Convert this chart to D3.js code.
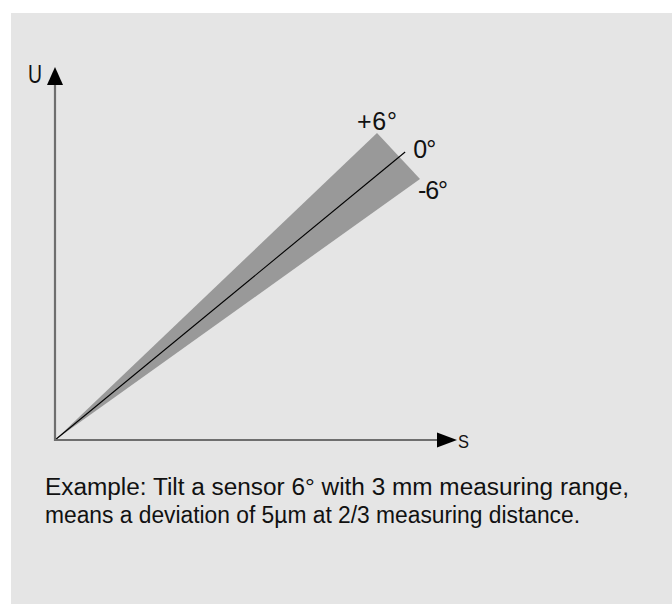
<!DOCTYPE html>
<html>
<head>
<meta charset="utf-8">
<script src="https://cdn.jsdelivr.net/npm/d3@7"></script>
<style>
html,body{margin:0;padding:0;background:#fff;}
svg{display:block;}
text{font-family:"Liberation Sans","Arial",sans-serif;fill:#111;}
</style>
</head>
<body>
<svg id="chart" width="672" height="604"></svg>
<script>
// ---- data ----
const axisLabels = ["U", "S"];
const axisDomain = [0, 100];
const tiltLabels = ["+6°", "0°", "-6°"];
const endS = [80.1, 87.1, 90.8];   // s-value at end of each line
const endU = [82.3, 77.2, 70.0];   // U-value at end of each line
const captionLines = [
  "Example: Tilt a sensor 6° with 3 mm measuring range,",
  "means a deviation of 5µm at 2/3 measuring  distance."
];

const svg = d3.select("#chart");
svg.append("rect").attr("x", 11).attr("y", 13).attr("width", 661).attr("height", 591).attr("fill", "#e5e5e5");

const x = d3.scaleLinear().domain(axisDomain).range([55, 457]);
const y = d3.scaleLinear().domain(axisDomain).range([440, 67]);

// wedge
const wedgePts = [[0, 0], [endS[0], endU[0]], [endS[2], endU[2]]];
svg.append("path")
  .attr("d", d3.line().x(d => x(d[0])).y(d => y(d[1]))(wedgePts) + "Z")
  .attr("fill", "#999999");

// 0° line
svg.append("path")
  .attr("d", d3.line().x(d => x(d[0])).y(d => y(d[1]))([[0, 0], [endS[1], endU[1]]]))
  .attr("stroke", "#000").attr("stroke-width", 1.1).attr("fill", "none");

// axes
const gx = svg.append("g").attr("transform", `translate(0,${y(0)})`)
  .call(d3.axisBottom(x).tickValues([]).tickSizeOuter(0));
const gy = svg.append("g").attr("transform", `translate(${x(0)},0)`)
  .call(d3.axisLeft(y).tickValues([]).tickSizeOuter(0));
[gx, gy].forEach(g => g.select(".domain").attr("stroke", "#6e6e6e").attr("stroke-width", 2.2));
gx.select(".domain").attr("d", `M${x(0) - 1},0H${x(100) - 18}`);
gy.select(".domain").attr("d", `M0,${y(0) + 1}V${y(100) + 16}`);

// arrowheads
const xa = x(100), ya = y(0);
svg.append("path").attr("d", `M${xa},${ya}L${xa - 20},${ya - 7.5}L${xa - 20},${ya + 7.5}Z`).attr("fill", "#000");
const xb = x(0), yb = y(100);
svg.append("path").attr("d", `M${xb},${yb}L${xb - 8},${yb + 18}L${xb + 8},${yb + 18}Z`).attr("fill", "#000");

svg.append("text").text(axisLabels[0]).attr("x", x(0) - 27).attr("y", y(100) + 16)
  .attr("font-size", 26).attr("textLength", 14).attr("lengthAdjust", "spacingAndGlyphs");
svg.append("text").text(axisLabels[1]).attr("x", x(100) + 1).attr("y", y(0) + 8)
  .attr("font-size", 19).attr("textLength", 11).attr("lengthAdjust", "spacingAndGlyphs");

// tilt labels
const lblOff = [[-20, -3], [8, 6], [-2, 20]];
const lblW = [40, 23, 30];
tiltLabels.forEach((t, i) => {
  svg.append("text").text(t)
    .attr("x", x(endS[i]) + lblOff[i][0])
    .attr("y", y(endU[i]) + lblOff[i][1])
    .attr("font-size", 25)
    .attr("textLength", lblW[i]).attr("lengthAdjust", "spacing");
});

// caption
const capW = [584, 535];
captionLines.forEach((t, i) => {
  svg.append("text").text(t)
    .attr("x", 45).attr("y", 495 + i * 28)
    .attr("font-size", 23)
    .attr("textLength", capW[i]).attr("lengthAdjust", "spacingAndGlyphs");
});
</script>
</body>
</html>
